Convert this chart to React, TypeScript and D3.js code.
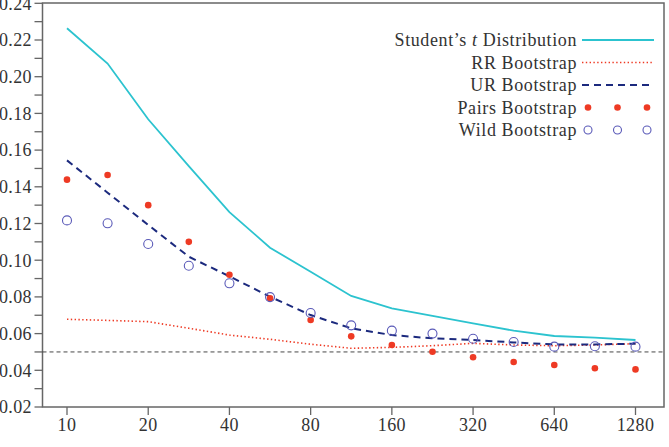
import React from 'react';
import * as d3 from 'd3';

// sample sizes (n), doubling every two steps
const sampleSizes = [10, 14.14, 20, 28.28, 40, 56.57, 80, 113.1, 160, 226.3, 320, 452.5, 640, 905.1, 1280];
const xTickValues = [10, 20, 40, 80, 160, 320, 640, 1280];
const yTickValues = [0.02, 0.04, 0.06, 0.08, 0.1, 0.12, 0.14, 0.16, 0.18, 0.2, 0.22, 0.24];

// rejection frequencies
const studentT = [0.2264, 0.2072, 0.1768, 0.1513, 0.1262, 0.1068, 0.0937, 0.0805, 0.0738, 0.0696, 0.0656, 0.0616, 0.0587, 0.0578, 0.0565];
const rrBoot = [0.0678, 0.0672, 0.0665, 0.0629, 0.0592, 0.0569, 0.0542, 0.052, 0.0525, 0.0534, 0.0547, 0.0538, 0.0534, 0.0538, 0.0545];
const urBoot = [0.1544, 0.1368, 0.1192, 0.1019, 0.0912, 0.0801, 0.0701, 0.0629, 0.0592, 0.0574, 0.0565, 0.0552, 0.0541, 0.0541, 0.0545];
const pairsBoot = [0.1439, 0.1464, 0.13, 0.11, 0.0921, 0.0792, 0.0674, 0.0585, 0.0538, 0.0501, 0.0471, 0.0445, 0.0429, 0.0411, 0.0405];
const wildBoot = [0.1217, 0.1201, 0.1088, 0.097, 0.0874, 0.0799, 0.0712, 0.0645, 0.0616, 0.06, 0.0572, 0.0554, 0.0529, 0.0531, 0.0529];
const nominalLevel = 0.05;

const W = 669;
const H = 447;
const left = 42.5;
const right = 664;
const top = 3;
const bottom = 407;

const CYAN = '#2cc3cf';
const RED = '#ee3a24';
const NAVY = '#1c2a7e';
const PURPLE = '#5a5ab8';
const AXIS = '#666';
const FONT = '"Liberation Serif", "DejaVu Serif", serif';

export default function App() {
  const x = d3.scaleLog().base(2).domain([10, 1280]).range([67, 635.5]);
  const y = d3.scaleLinear().domain([0.02, 0.24]).range([bottom, top + 0.3]);
  const minorY = d3.range(2, 25).map(d => d / 100);

  const line = d3.line<number>()
    .x((_, i) => x(sampleSizes[i]))
    .y(d => y(d));

  const legend = [
    { label: 'Student’s ', italic: 't', rest: ' Distribution', kind: 'solid' },
    { label: 'RR Bootstrap', kind: 'dotted' },
    { label: 'UR Bootstrap', kind: 'dashed' },
    { label: 'Pairs Bootstrap', kind: 'dots' },
    { label: 'Wild Bootstrap', kind: 'circles' },
  ];
  const legendTextX = 577;
  const legendLine: [number, number] = [582, 654];

  return (
    <svg width={W} height={H} style={{ position: 'absolute', left: 0, top: 0 }} fontFamily={FONT}>
      <rect width={W} height={H} fill="#fff" />

      {/* frame */}
      <rect x={left} y={top} width={right - left} height={bottom - top} fill="none" stroke={AXIS} strokeWidth={1.5} />

      {/* y ticks, every 0.01 */}
      {minorY.map(v => (
        <line key={v} x1={left - 8} x2={left} y1={y(v)} y2={y(v)} stroke={AXIS} strokeWidth={1.3} />
      ))}
      {yTickValues.map(v => (
        <text key={v} x={32} y={y(v)} dy="0.35em" textAnchor="end" fontSize={18} letterSpacing={0.4} fill="#333">
          {v.toFixed(2)}
        </text>
      ))}

      {/* x ticks */}
      {xTickValues.map(v => (
        <g key={v}>
          <line x1={x(v)} x2={x(v)} y1={bottom} y2={bottom + 8} stroke={AXIS} strokeWidth={1.3} />
          <text x={x(v)} y={bottom + 18} textAnchor="middle" dy="0.35em" fontSize={18} letterSpacing={0.4} fill="#333">{v}</text>
        </g>
      ))}

      {/* nominal level */}
      <line x1={left} x2={right} y1={y(nominalLevel)} y2={y(nominalLevel)} stroke="#333" strokeWidth={0.9} strokeDasharray="4,3" />

      <path d={line(studentT) ?? ''} fill="none" stroke={CYAN} strokeWidth={1.8} />
      <path d={line(rrBoot) ?? ''} fill="none" stroke={RED} strokeWidth={1.6} strokeDasharray="1.4,2.4" />
      <path d={line(urBoot) ?? ''} fill="none" stroke={NAVY} strokeWidth={2} strokeDasharray="7,5" />

      {pairsBoot.map((v, i) => (
        <circle key={'p' + i} cx={x(sampleSizes[i])} cy={y(v)} r={3.3} fill={RED} />
      ))}
      {wildBoot.map((v, i) => (
        <circle key={'w' + i} cx={x(sampleSizes[i])} cy={y(v)} r={4.5} fill="none" stroke={PURPLE} strokeWidth={1.1} />
      ))}

      {/* legend */}
      {legend.map((d, i) => {
        const ly = 40 + i * 22.5;
        const markX = [588, 617.5, 647];
        return (
          <g key={d.label}>
            <text x={legendTextX} y={ly} dy="0.35em" textAnchor="end" fontSize={18} letterSpacing={0.6} fill="#333">
              {d.label}
              {d.italic && <tspan fontStyle="italic">{d.italic}</tspan>}
              {d.rest}
            </text>
            {d.kind === 'solid' && <line x1={legendLine[0]} x2={legendLine[1]} y1={ly} y2={ly} stroke={CYAN} strokeWidth={1.8} />}
            {d.kind === 'dotted' && <line x1={legendLine[0]} x2={legendLine[1]} y1={ly} y2={ly} stroke={RED} strokeWidth={1.6} strokeDasharray="1.4,2.4" />}
            {d.kind === 'dashed' && <line x1={legendLine[0]} x2={legendLine[1]} y1={ly} y2={ly} stroke={NAVY} strokeWidth={2} strokeDasharray="7,5" />}
            {d.kind === 'dots' && markX.map(mx => <circle key={mx} cx={mx} cy={ly} r={3.3} fill={RED} />)}
            {d.kind === 'circles' && markX.map(mx => <circle key={mx} cx={mx} cy={ly} r={4} fill="none" stroke={PURPLE} strokeWidth={1.1} />)}
          </g>
        );
      })}
    </svg>
  );
}
